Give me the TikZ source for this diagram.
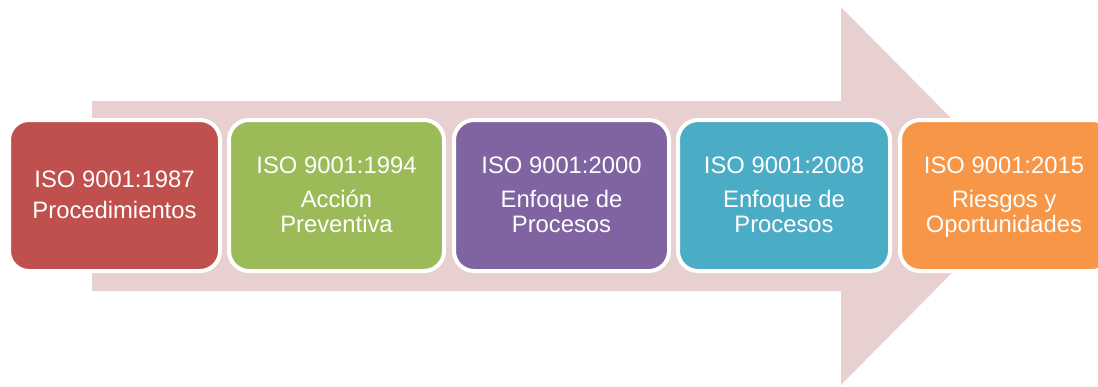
\documentclass[tikz,border=0pt]{standalone}
\usepackage{fontspec}
\setmainfont{Liberation Sans}
\definecolor{arrowpink}{RGB}{232,208,209}
\definecolor{cred}{RGB}{192,80,77}
\definecolor{cgreen}{RGB}{155,187,89}
\definecolor{cpurple}{RGB}{128,100,162}
\definecolor{cteal}{RGB}{75,172,198}
\definecolor{corange}{RGB}{247,150,70}
\begin{document}
\begin{tikzpicture}[x=1pt,y=-1pt,
  stagebox/.style={draw=white,line width=4pt,rounded corners=20pt},
  lbl/.style={text=white,anchor=base,inner sep=0pt,font=\fontsize{23.8}{25.5}\selectfont}]
\useasboundingbox (0,0) rectangle (1098,386);
\begin{scope}
\clip (0,0) rectangle (1098,386);
% big arrow
\fill[arrowpink] (92,101) -- (841,101) -- (841,7) -- (1028,196) -- (841,385) -- (841,291) -- (92,291) -- cycle;
% boxes
\path[stagebox,fill=cred] (9,120) rectangle (220,271);
\path[stagebox,fill=cgreen] (229,120) rectangle (444,271);
\path[stagebox,fill=cpurple] (454,120) rectangle (669,271);
\path[stagebox,fill=cteal] (678,120) rectangle (890,271);
\path[stagebox,fill=corange] (900,120) rectangle (1112,271);
% texts
\node[lbl] (t1a) at (114.5,187) {ISO 9001:1987};
\node[lbl] (t1b) at (114.5,218) {Procedimientos};
\node[lbl] (t2a) at (336.5,173) {ISO 9001:1994};
\node[lbl] (t2b) at (336.5,207) {Acción};
\node[lbl] (t2c) at (336.5,232) {Preventiva};
\node[lbl] (t3a) at (561.5,173) {ISO 9001:2000};
\node[lbl] (t3b) at (561.5,207) {Enfoque de};
\node[lbl] (t3c) at (561.5,232) {Procesos};
\node[lbl] (t4a) at (784,173) {ISO 9001:2008};
\node[lbl] (t4b) at (784,207) {Enfoque de};
\node[lbl] (t4c) at (784,232) {Procesos};
\node[lbl] (t5a) at (1004,173) {ISO 9001:2015};
\node[lbl] (t5b) at (1004,207) {Riesgos y};
\node[lbl] (t5c) at (1004,232) {Oportunidades};
\end{scope}
\end{tikzpicture}
\end{document}
